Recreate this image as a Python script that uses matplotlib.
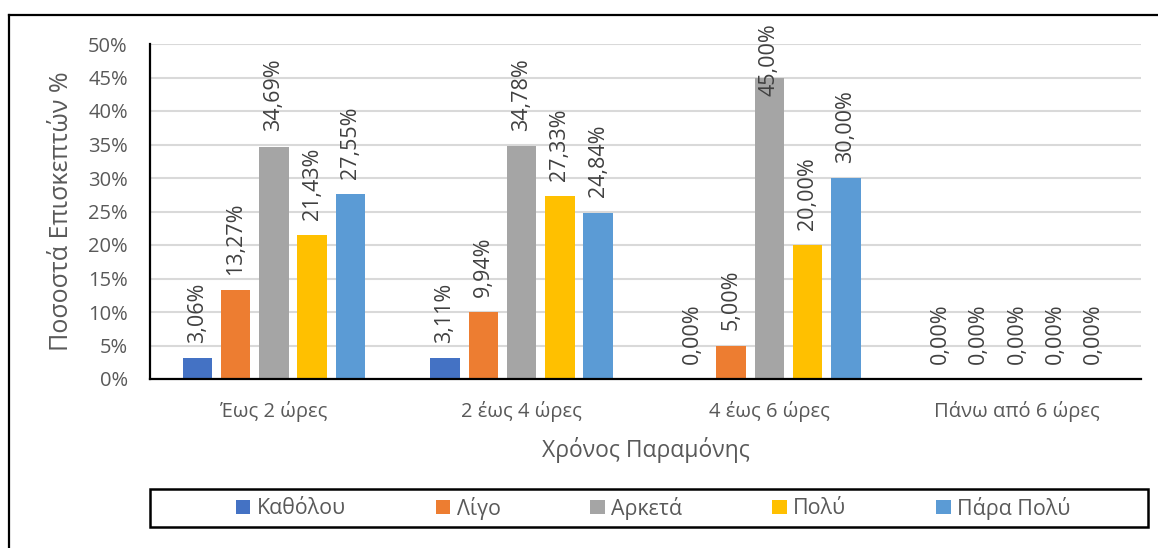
import matplotlib
matplotlib.use("Agg")
import matplotlib.pyplot as plt
import numpy as np
from matplotlib.patches import Rectangle, Patch
from matplotlib.lines import Line2D

plt.rcParams['font.family'] = ['Open Sans', 'DejaVu Sans']

categories = ["Έως 2 ώρες", "2 έως 4 ώρες", "4 έως 6 ώρες", "Πάνω από 6 ώρες"]
series_names = ["Καθόλου", "Λίγο", "Αρκετά", "Πολύ", "Πάρα Πολύ"]
katholou = [3.06, 3.11, 0.00, 0.00]
ligo = [13.27, 9.94, 5.00, 0.00]
arketa = [34.69, 34.78, 45.00, 0.00]
poly = [21.43, 27.33, 20.00, 0.00]
para_poly = [27.55, 24.84, 30.00, 0.00]
series_values = [katholou, ligo, arketa, poly, para_poly]
colors = ["#4472C4", "#ED7D31", "#A5A5A5", "#FFC000", "#5B9BD5"]
yticks = [0, 5, 10, 15, 20, 25, 30, 35, 40, 45, 50]

W, H = 1158, 548
fig = plt.figure(figsize=(W / 100, H / 100), dpi=100)
ax = fig.add_axes([150 / W, 1 - 379 / H, (1141 - 150) / W, (379 - 44) / H])

x = np.arange(len(categories))
slot = 0.1546
bw = 0.119
txtc = "#404040"
for i, (vals, col) in enumerate(zip(series_values, colors)):
    xs = x + (i - 2) * slot
    ax.bar(xs, vals, width=bw, color=col, zorder=3)
    for xi, v in zip(xs, vals):
        lab = f"{v:.2f}".replace(".", ",") + "%"
        if v > 40:
            ax.annotate(lab, (xi, 50), xytext=(0, 15), textcoords="offset points",
                        rotation=90, ha="center", va="top", fontsize=15.5,
                        color=txtc, zorder=4, annotation_clip=False)
        else:
            ax.annotate(lab, (xi, v), xytext=(0, 11), textcoords="offset points",
                        rotation=90, ha="center", va="bottom", fontsize=15.5,
                        color=txtc, zorder=4, annotation_clip=False)

ax.set_xlim(-0.5, len(categories) - 0.5)
ax.set_ylim(0, 50)
ax.set_yticks(yticks)
ax.set_yticklabels([f"{t}%" for t in yticks])
ax.set_xticks(x)
ax.set_xticklabels(categories)
ax.tick_params(axis="y", length=0, pad=16, labelsize=14.5, labelcolor="#595959")
ax.tick_params(axis="x", length=0, pad=16, labelsize=14.5, labelcolor="#595959")
ax.grid(axis="y", color="#d9d9d9", linewidth=1.5, zorder=0)
ax.set_axisbelow(True)
for s in ["top", "right"]:
    ax.spines[s].set_visible(False)
for s in ["left", "bottom"]:
    ax.spines[s].set_color("black")
    ax.spines[s].set_linewidth(1.6)
    ax.spines[s].set_zorder(5)

fig.text(62 / W, 1 - 211 / H, "Ποσοστά Επισκεπτών %", rotation=90,
         ha="center", va="center", fontsize=18, color="#595959")
fig.text(646 / W, 1 - 450 / H, "Χρόνος Παραμόνης", ha="center", va="center",
         fontsize=16.5, color="#595959")

# outer frame
fig.add_artist(Line2D([9 / W, 1.0], [1 - 15 / H, 1 - 15 / H], color="black",
                      linewidth=1.6, transform=fig.transFigure))
fig.add_artist(Line2D([9 / W, 9 / W], [0, 1 - 15 / H], color="black",
                      linewidth=1.6, transform=fig.transFigure))

# legend box
fig.add_artist(Rectangle((150 / W, 1 - 527 / H), (1148 - 150) / W, (527 - 489) / H,
                         transform=fig.transFigure, fill=False,
                         edgecolor="black", linewidth=1.8))
handles = [Patch(facecolor=c, edgecolor="none") for c in colors]
leg = fig.legend(handles, series_names, loc="center", bbox_to_anchor=(653 / W, 1 - 508 / H),
                 ncol=5, frameon=False, fontsize=15.4, handlelength=0.68, handleheight=0.68,
                 handletextpad=0.3, columnspacing=4.2, labelcolor="#595959")

fig.savefig("out.png", dpi=100)
